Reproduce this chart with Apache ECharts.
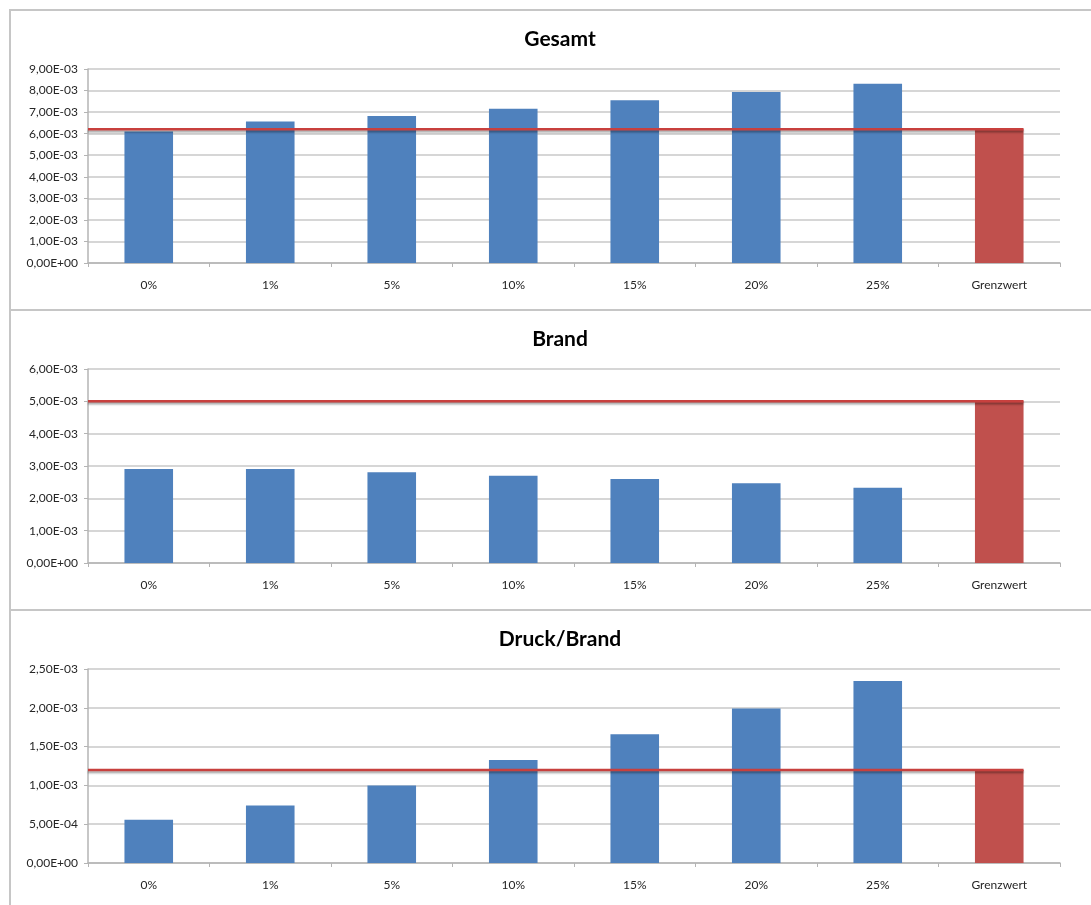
<!DOCTYPE html>
<html>
<head>
<meta charset="utf-8">
<script src="https://cdn.jsdelivr.net/npm/echarts@6/dist/echarts.min.js"></script>
<style>
html,body{margin:0;padding:0;background:#fff;width:1091px;height:905px;overflow:hidden;}
.panel{position:absolute;left:9px;width:1100px;border:2px solid #c6c6c6;box-sizing:border-box;background:#fff;}
#chart{position:absolute;left:0;top:0;width:1091px;height:905px;}
</style>
</head>
<body>
<div class="panel" style="top:9px;height:302px;"></div>
<div class="panel" style="top:309px;height:302px;"></div>
<div class="panel" style="top:609px;height:310px;"></div>
<div id="chart"></div>
<script>
const categories = ['0%', '1%', '5%', '10%', '15%', '20%', '25%', 'Grenzwert'];
const titles = ['Gesamt', 'Brand', 'Druck/Brand'];
const gesamtValues = [6.10e-3, 6.56e-3, 6.82e-3, 7.16e-3, 7.55e-3, 7.93e-3, 8.32e-3, 6.20e-3];
const brandValues = [2.91e-3, 2.91e-3, 2.81e-3, 2.70e-3, 2.60e-3, 2.47e-3, 2.33e-3, 5.00e-3];
const druckBrandValues = [0.558e-3, 0.742e-3, 1.00e-3, 1.327e-3, 1.66e-3, 1.99e-3, 2.345e-3, 1.20e-3];
const axisMax = [9e-3, 6e-3, 2.5e-3];
const axisInterval = [1e-3, 1e-3, 5e-4];

const seriesValues = [gesamtValues, brandValues, druckBrandValues];
const blue = '#4f81bd';
const red = '#c0504d';
const barFraction = 0.4;
const gridTops = [69, 369, 669];
const gridHeight = 194;
const titleTops = [24, 324, 624];

function fmt(v) {
  if (Math.abs(v) < 1e-12) return '0,00E+00';
  const s = v.toExponential(2);
  const parts = s.split('e');
  const mant = parts[0].replace('.', ',');
  let exp = parseInt(parts[1], 10);
  const sign = exp < 0 ? '-' : '+';
  exp = Math.abs(exp);
  return mant + 'E' + sign + (exp < 10 ? '0' + exp : '' + exp);
}

const chart = echarts.init(document.getElementById('chart'));
const grids = [], xAxes = [], yAxes = [], series = [], titleOpts = [];
const n = categories.length;
for (let i = 0; i < 3; i++) {
  titleOpts.push({
    text: titles[i], left: 555, top: titleTops[i], textAlign: 'center',
    textStyle: {fontFamily: 'Lato', fontWeight: 'bold', fontSize: 21, color: '#000'}
  });
  grids.push({left: 88, right: 31, top: gridTops[i], height: gridHeight});
  xAxes.push({
    type: 'category', gridIndex: i, data: categories,
    axisLine: {lineStyle: {color: '#b4b4b4', width: 1.5}},
    axisTick: {show: true, length: 4, lineStyle: {color: '#b4b4b4'}},
    axisLabel: {fontFamily: 'Lato', fontSize: 12, color: '#262626', margin: 16},
    splitLine: {show: false}
  });
  yAxes.push({
    type: 'value', gridIndex: i, min: 0, max: axisMax[i], interval: axisInterval[i],
    axisLine: {show: true, lineStyle: {color: '#b4b4b4', width: 1.5}},
    axisTick: {show: true, length: 4, lineStyle: {color: '#b4b4b4'}},
    axisLabel: {fontFamily: 'Lato', fontSize: 12, color: '#262626', margin: 10, formatter: fmt},
    splitLine: {show: true, lineStyle: {color: '#c8c8c8', width: 1.5}}
  });
}
// hidden value x-axes spanning the category bands (0..n) for the limit line
for (let i = 0; i < 3; i++) {
  xAxes.push({type: 'value', gridIndex: i, min: 0, max: n, show: false});
}
for (let i = 0; i < 3; i++) {
  const vals = seriesValues[i];
  const limit = vals[n - 1];
  series.push({
    type: 'bar', xAxisIndex: i, yAxisIndex: i, barWidth: (barFraction * 100) + '%',
    data: vals.map(function (v, k) {
      return {value: v, itemStyle: {color: k === n - 1 ? red : blue}};
    })
  });
  series.push({
    type: 'line', xAxisIndex: 3 + i, yAxisIndex: i, z: 5,
    symbol: 'none', silent: true,
    lineStyle: {color: '#c8403e', width: 2.5,
      shadowColor: 'rgba(0,0,0,0.35)', shadowOffsetY: 2, shadowBlur: 2},
    data: [[0, limit], [n - (1 - barFraction) / 2, limit]]
  });
}

chart.setOption({
  animation: false,
  title: titleOpts,
  grid: grids,
  xAxis: xAxes,
  yAxis: yAxes,
  series: series
});
</script>
</body>
</html>
